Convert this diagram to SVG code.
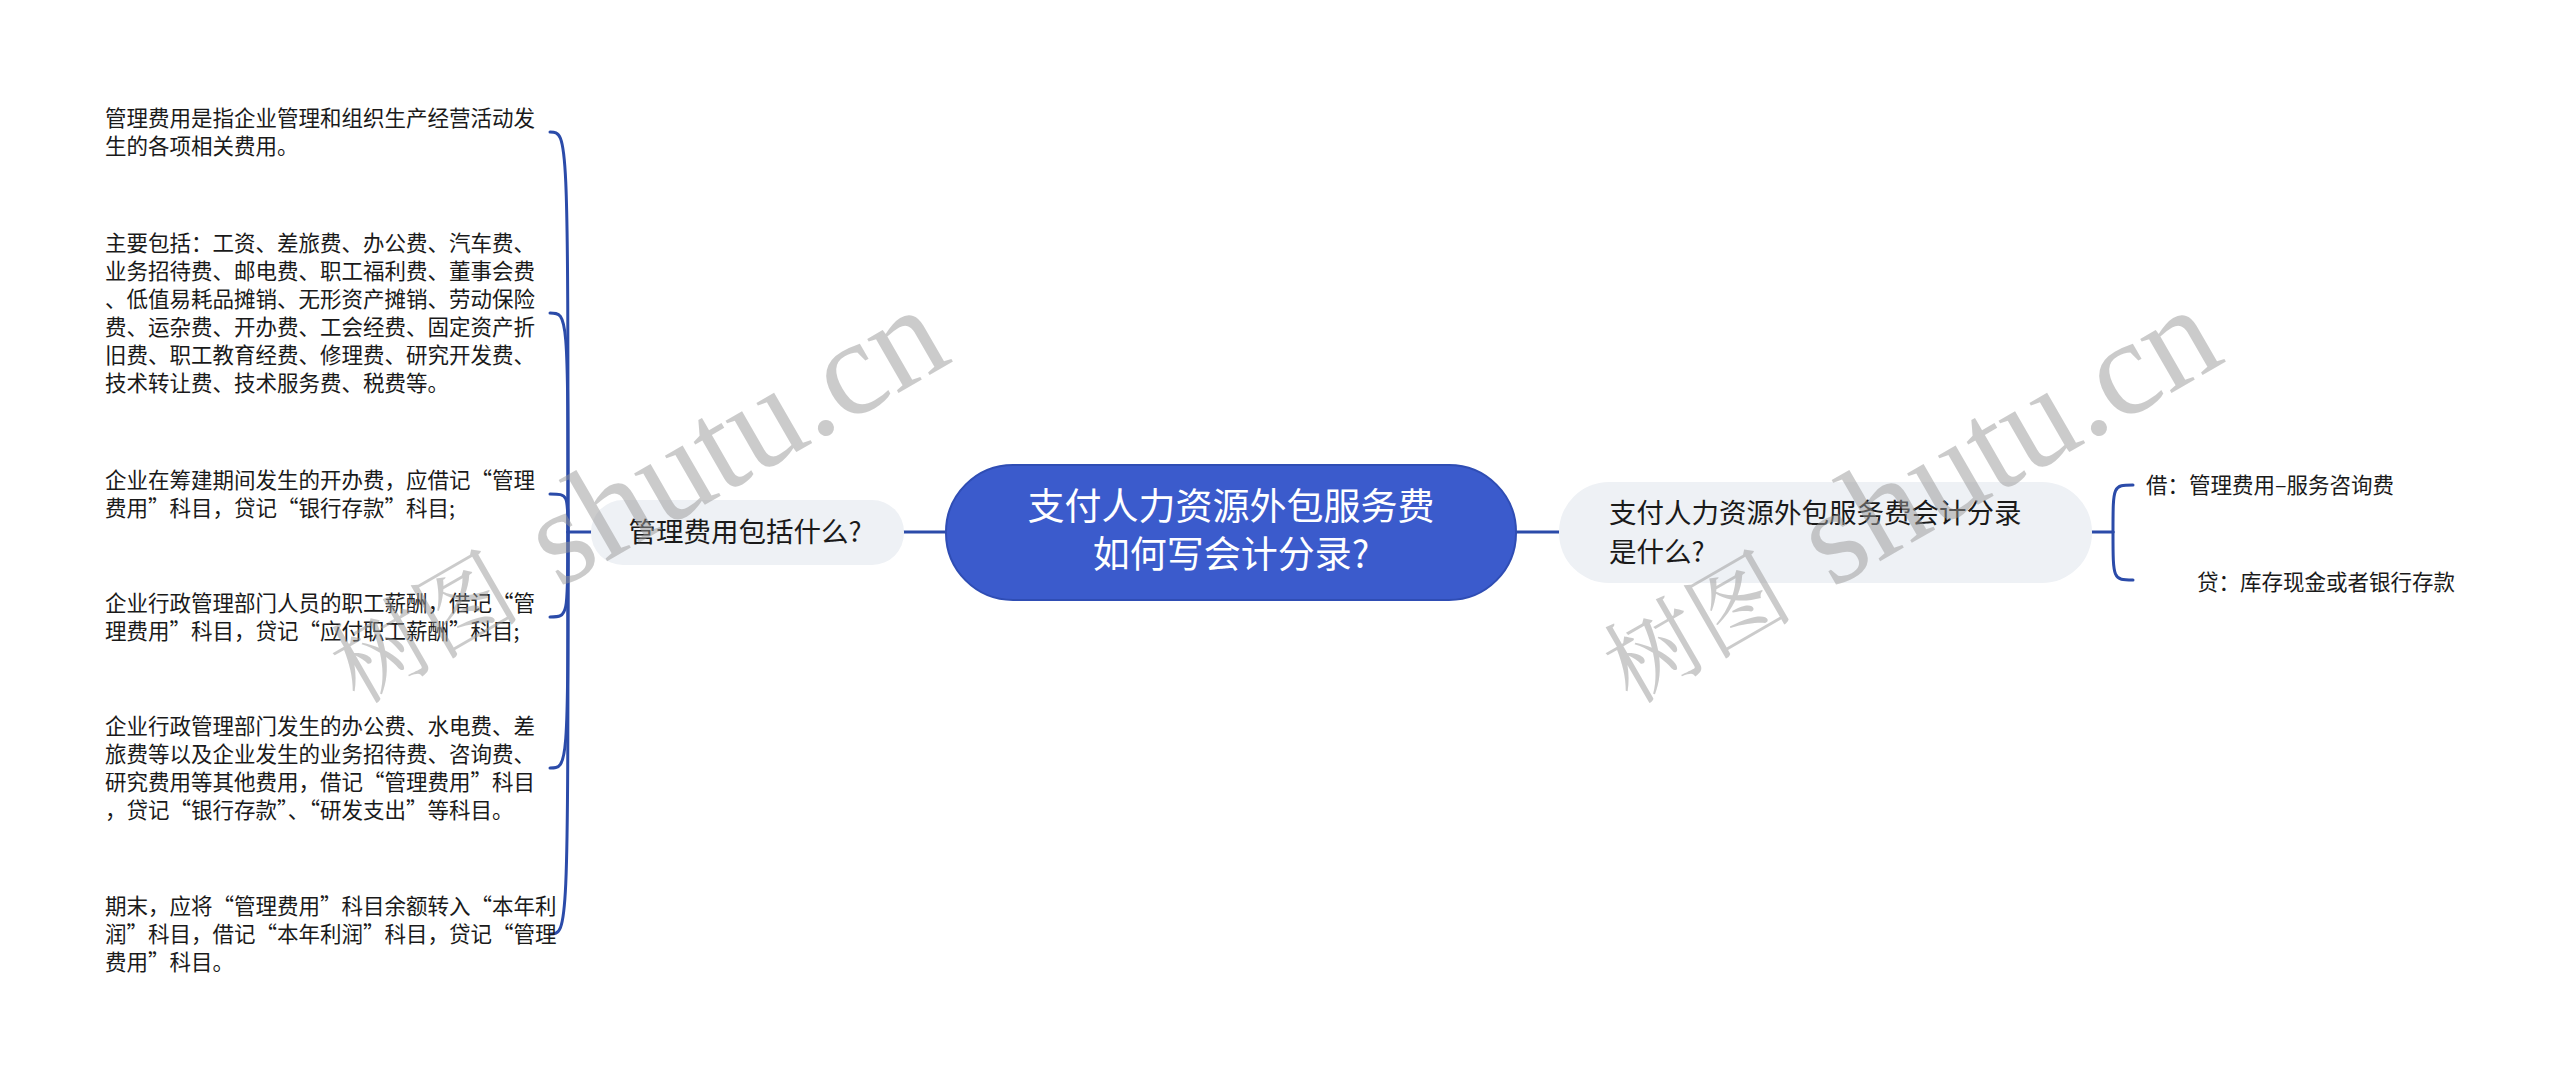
<svg xmlns="http://www.w3.org/2000/svg" width="2560" height="1079" viewBox="0 0 2560 1079">
<style>
.bg{fill:#ffffff}
.conn{fill:none;stroke:#2b4ba9;stroke-width:3;stroke-linecap:round}
.cjk{font-family:"Noto Sans CJK SC","Noto Sans",sans-serif}
.leaf{font-size:21.5px;fill:#1a1a1a}
.sub{fill:#eef1f5}
.subt{font-size:27.5px;fill:#1a1a1a}
.root{fill:#3b5bcc;stroke:#2f4db4;stroke-width:2}
.roott{font-size:37px;fill:#ffffff}
.wm{fill:#999999;opacity:0.5;font-family:"Liberation Serif","Noto Serif CJK SC","Noto Sans CJK SC",serif}
</style>
<rect class="bg" x="0" y="0" width="2560" height="1079"/>

<g id="connectors">
  <path class="conn" d="M903 532 L946 532"/>
  <path class="conn" d="M1516 532 L1559 532"/>
  <path class="conn" d="M2092 532 L2113 532"/>
  <path class="conn" d="M2113 532 C2113 485 2113 485 2133 485"/>
  <path class="conn" d="M2113 532 C2113 580 2113 580 2133 580"/>
  <path class="conn" d="M591 532 L568 532"/>
  <path class="conn" d="M568 532 C568 132 568 132 550 132"/>
  <path class="conn" d="M568 532 C568 313 568 313 550 313"/>
  <path class="conn" d="M568 532 C568 494 568 494 550 494"/>
  <path class="conn" d="M568 532 C568 617 568 617 550 617"/>
  <path class="conn" d="M568 532 C568 768 568 768 550 768"/>
  <path class="conn" d="M568 532 C568 934 568 934 550 934"/>
</g>

<g id="root">
  <rect class="root" x="946" y="465" width="570" height="135" rx="67" ry="67"/>
  <text class="cjk roott" x="1231" y="520" text-anchor="middle">支付人力资源外包服务费</text>
  <text class="cjk roott" x="1231" y="568" text-anchor="middle">如何写会计分录?</text>
</g>

<g id="node-left">
  <rect class="sub" x="591" y="500" width="313" height="65" rx="32" ry="32"/>
  <text class="cjk subt" x="745" y="542" text-anchor="middle">管理费用包括什么?</text>
</g>

<g id="node-right">
  <rect class="sub" x="1559" y="482" width="533" height="101" rx="50" ry="50"/>
  <text class="cjk subt" x="1609" y="523">支付人力资源外包服务费会计分录</text>
  <text class="cjk subt" x="1609" y="562">是什么?</text>
</g>

<g id="leaf-r1">
  <text class="cjk leaf" x="2146" y="493">借：管理费用–服务咨询费</text>
</g>
<g id="leaf-r2">
  <text class="cjk leaf" x="2197" y="590">贷：库存现金或者银行存款</text>
</g>

<g id="leaf-l1">
  <text class="cjk leaf" x="105" y="126">管理费用是指企业管理和组织生产经营活动发</text>
  <text class="cjk leaf" x="105" y="154">生的各项相关费用。</text>
</g>
<g id="leaf-l2">
  <text class="cjk leaf" x="105" y="251">主要包括：工资、差旅费、办公费、汽车费、</text>
  <text class="cjk leaf" x="105" y="279">业务招待费、邮电费、职工福利费、董事会费</text>
  <text class="cjk leaf" x="105" y="307">、低值易耗品摊销、无形资产摊销、劳动保险</text>
  <text class="cjk leaf" x="105" y="335">费、运杂费、开办费、工会经费、固定资产折</text>
  <text class="cjk leaf" x="105" y="363">旧费、职工教育经费、修理费、研究开发费、</text>
  <text class="cjk leaf" x="105" y="391">技术转让费、技术服务费、税费等。</text>
</g>
<g id="leaf-l3">
  <text class="cjk leaf" x="105" y="488">企业在筹建期间发生的开办费，应借记“管理</text>
  <text class="cjk leaf" x="105" y="516">费用”科目，贷记“银行存款”科目;</text>
</g>
<g id="leaf-l4">
  <text class="cjk leaf" x="105" y="611">企业行政管理部门人员的职工薪酬，借记“管</text>
  <text class="cjk leaf" x="105" y="639">理费用”科目，贷记“应付职工薪酬”科目;</text>
</g>
<g id="leaf-l5">
  <text class="cjk leaf" x="105" y="734">企业行政管理部门发生的办公费、水电费、差</text>
  <text class="cjk leaf" x="105" y="762">旅费等以及企业发生的业务招待费、咨询费、</text>
  <text class="cjk leaf" x="105" y="790">研究费用等其他费用，借记“管理费用”科目</text>
  <text class="cjk leaf" x="105" y="818">，贷记“银行存款”、“研发支出”等科目。</text>
</g>
<g id="leaf-l6">
  <text class="cjk leaf" x="105" y="914">期末，应将“管理费用”科目余额转入“本年利</text>
  <text class="cjk leaf" x="105" y="942">润”科目，借记“本年利润”科目，贷记“管理</text>
  <text class="cjk leaf" x="105" y="970">费用”科目。</text>
</g>

<g id="watermark-1" transform="translate(358 705) rotate(-30)">
  <text class="wm" x="0" y="0" font-size="95">树图</text>
  <text class="wm" x="232" y="0" font-size="136">shutu.cn</text>
</g>
<g id="watermark-2" transform="translate(1631 705) rotate(-30)">
  <text class="wm" x="0" y="0" font-size="95">树图</text>
  <text class="wm" x="232" y="0" font-size="136">shutu.cn</text>
</g>
</svg>
